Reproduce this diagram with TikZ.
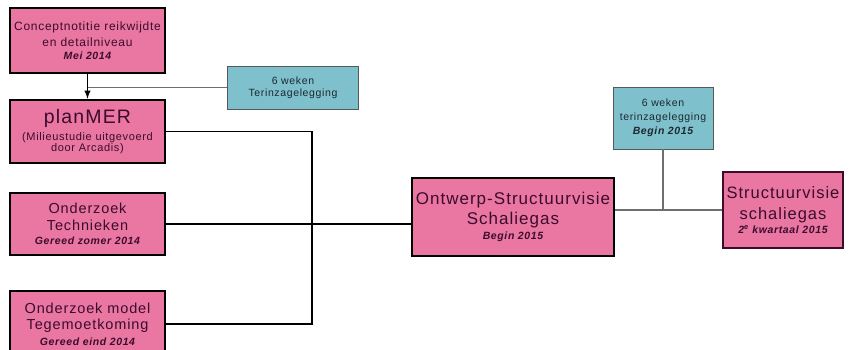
\documentclass[tikz,border=0pt]{standalone}
\usepackage{fontspec}
\setmainfont[LetterSpace=6]{Liberation Sans}
\usetikzlibrary{positioning}

\definecolor{planpink}{RGB}{234,118,162}
\definecolor{planteal}{RGB}{126,193,204}
\definecolor{pinktext}{RGB}{60,12,45}
\definecolor{tealtext}{RGB}{30,40,48}
\definecolor{greyline}{RGB}{110,110,110}

\tikzset{
  pinkbox/.style={draw=black, line width=2.5pt, fill=planpink, text=pinktext,
    align=center, inner sep=2pt},
  thinpink/.style={pinkbox, draw=pinktext, line width=1.2pt},
  tealbox/.style={draw=greyline!80!black, line width=0.9pt, fill=planteal,
    text=tealtext, align=center, inner sep=2pt},
  joinline/.style={draw=black, line width=1.8pt},
  greyjoin/.style={draw=greyline, line width=1.2pt}
}

\newcommand{\fsz}[2]{\fontsize{#1}{#2}\selectfont}
\newcommand{\datum}{\fsz{10.5}{12}\bfseries\itshape}

\begin{document}
\begin{tikzpicture}[x=1pt,y=-1pt]
            % Fix the frame
            \useasboundingbox (0,0) rectangle (849,350);
            \clip (0,0) rectangle (849,350);

            % Draw the boxes on the left
            \node[pinkbox, minimum width=155pt, minimum height=65pt, font=\fsz{12}{13}] (concept) at (87.5,40.5)
              {Conceptnotitie reikwijdte\\[3pt] en detailniveau\\ \datum Mei 2014};

            \node[pinkbox, minimum width=155pt, minimum height=63pt, font=\fsz{11}{11.5}] (planmer) at (87.5,131.5)
              {\fsz{19.5}{12}planMER\\[4pt] (Milieustudie uitgevoerd\\ door Arcadis)};

            \node[pinkbox, minimum width=155pt, minimum height=62pt, font=\fsz{14.5}{14}] (techniek) at (87.5,224)
              {Onderzoek\\[3pt] Technieken\\ \datum Gereed zomer 2014};

            \node[pinkbox, minimum width=155pt, minimum height=66pt, font=\fsz{14.5}{16}] (model) at (87.5,324)
              {Onderzoek model\\ Tegemoetkoming\\ \datum Gereed eind 2014};

            % Draw the boxes on the right
            \node[pinkbox, minimum width=202pt, minimum height=78pt, font=\fsz{17}{15}] (ontwerp) at (513,217)
              {Ontwerp-Structuurvisie\\[4pt] Schaliegas\\ \datum Begin 2015};

            \node[thinpink, minimum width=120pt, minimum height=76pt, font=\fsz{16.5}{14}] (visie) at (783,210)
              {Structuurvisie\\[7pt] schaliegas\\ \datum 2\textsuperscript{e} kwartaal 2015};

            % Draw the inspection boxes
            \node[tealbox, minimum width=131pt, minimum height=43pt, font=\fsz{10.5}{12}] (inzage) at (293,87.5)
              {6 weken\\ Terinzagelegging};

            \node[tealbox, minimum width=100pt, minimum height=62pt, font=\fsz{10.5}{14}] (inzagetwee) at (663,118)
              {6 weken\\ terinzagelegging\\ \datum Begin 2015};

            % Draw the connectors
            \coordinate (split) at (312,0);
            \draw[greyjoin] (inzage.west) -- (inzage.west -| concept.south);
            \draw[joinline, -latex] (concept.south) -- (planmer.north);
            \draw[joinline] (planmer.east) -| (split |- model.east) -- (model.east);
            \draw[joinline] (techniek.east) -- (techniek.east -| ontwerp.west);
            \draw[greyjoin] (visie.west -| ontwerp.east) -- (visie.west);
            \draw[greyjoin] (inzagetwee.south) -- (inzagetwee.south |- visie.west);

        \end{tikzpicture}
\end{document}
